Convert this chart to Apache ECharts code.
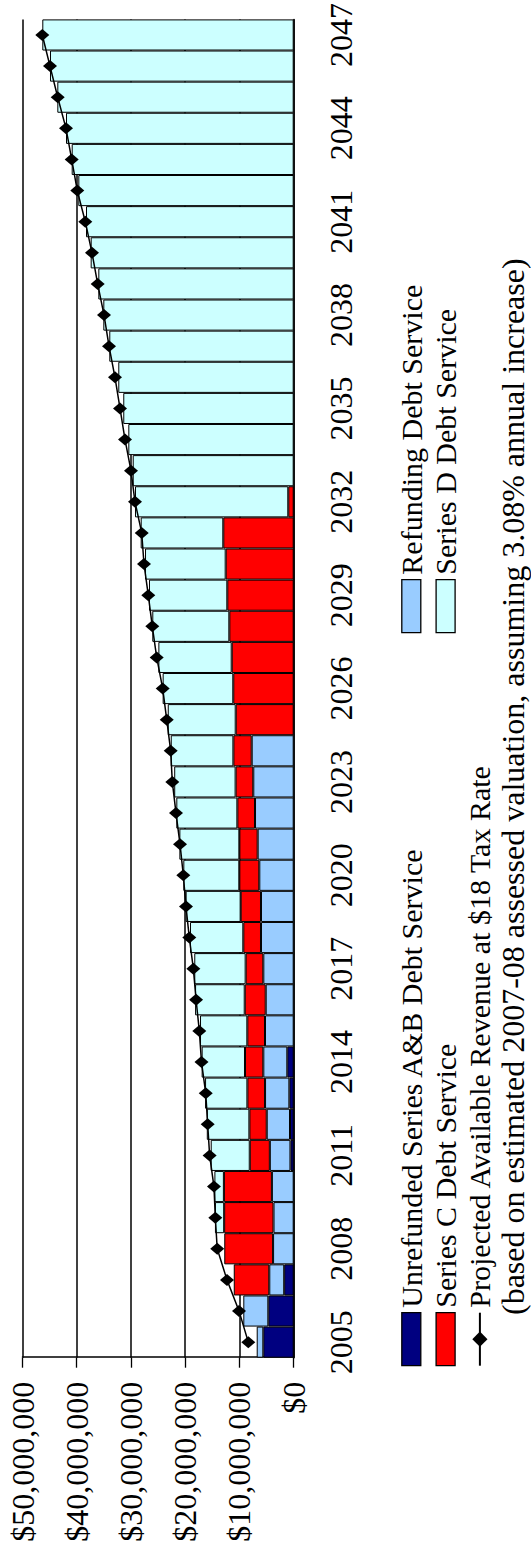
<!DOCTYPE html>
<html>
<head>
<meta charset="utf-8">
<script src="https://cdn.jsdelivr.net/npm/echarts@6/dist/echarts.min.js"></script>
<style>
  html, body { margin: 0; padding: 0; background: #fff; overflow: hidden; width: 531px; height: 1551px; }
  /* the chart is laid out landscape and turned a quarter-turn counter-clockwise */
  #chart { position: absolute; left: 0; top: 0; width: 1551px; height: 531px;
           transform-origin: 0 0; transform: translateY(1551px) rotate(-90deg); }
</style>
</head>
<body>
<div id="chart"></div>
<script>
// Fiscal years
const years = ['2005','2006','2007','2008','2009','2010','2011','2012','2013','2014',
  '2015','2016','2017','2018','2019','2020','2021','2022','2023','2024',
  '2025','2026','2027','2028','2029','2030','2031','2032','2033','2034',
  '2035','2036','2037','2038','2039','2040','2041','2042','2043','2044',
  '2045','2046','2047'];

// Debt service by component, millions of dollars (null = none that year)
const unrefundedAB = [5.60, 4.68, 1.75, null, null, null, 0.60, 0.68, 0.80, 1.18,
  null, null, null, null, null, null, null, null, null, null,
  null, null, null, null, null, null, null, null, null, null,
  null, null, null, null, null, null, null, null, null, null,
  null, null, null];

const refunding = [1.22, 4.61, 2.75, 3.80, 3.72, 4.02, 3.80, 4.29, 4.48, 4.42,
  5.29, 5.16, 5.60, 6.03, 6.03, 6.34, 6.64, 7.13, 7.45, 7.74,
  null, null, null, null, null, null, null, null, null, null,
  null, null, null, null, null, null, null, null, null, null,
  null, null, null];

const seriesC = [null, null, 6.55, 9.00, 9.10, 8.85, 3.70, 3.20, 3.26, 3.38,
  3.26, 3.87, 3.26, 3.26, 3.75, 3.69, 3.38, 3.26, 3.26, 3.38,
  10.69, 11.14, 11.43, 11.87, 12.24, 12.54, 12.98, 1.00, null, null,
  null, null, null, null, null, null, null, null, null, null,
  null, null, null];

const seriesD = [null, null, null, null, 1.70, 1.75, 7.20, 7.85, 7.80, 7.99,
  8.72, 9.15, 9.47, 9.83, 10.14, 10.32, 11.06, 11.25, 11.32, 11.55,
  12.53, 13.02, 13.52, 14.20, 14.44, 14.87, 15.23, 28.26, 29.68, 30.49,
  31.42, 32.34, 34.00, 35.10, 36.02, 37.43, 38.29, 39.71, 40.93, 41.98,
  43.58, 44.93, 46.35];

// Projected available revenue at the $18 tax rate, millions of dollars
const projectedRevenue = [8.37, 10.08, 12.30, 14.10, 14.45, 14.70, 15.50, 15.86, 16.22, 17.00,
  17.40, 18.00, 18.50, 19.25, 19.86, 20.35, 20.96, 21.70, 22.38, 22.68,
  23.41, 24.15, 25.26, 26.07, 26.81, 27.60, 28.02, 29.26, 30.00, 31.10,
  32.02, 32.95, 34.05, 34.97, 36.14, 37.19, 38.42, 39.90, 40.93, 41.98,
  43.51, 44.93, 46.35];

const names = {
  ab: 'Unrefunded Series A&B Debt Service',
  ref: 'Refunding Debt Service',
  c: 'Series C Debt Service',
  d: 'Series D Debt Service',
  rev: 'Projected Available Revenue at $18 Tax Rate'
};
const revenueNote = '(based on estimated 2007-08 assessed valuation, assuming 3.08% annual increase)';

const FONT = "'Liberation Serif', 'Times New Roman', serif";
const chart = echarts.init(document.getElementById('chart'), null, { renderer: 'svg' });

const barSeries = (name, data, color) => ({
  name, type: 'bar', stack: 'ds', data,
  barCategoryGap: '0%',
  itemStyle: { color, borderColor: '#000', borderWidth: 1 },
  emphasis: { disabled: true }
});

const boxItem = name => ({ name, icon: 'rect', itemStyle: { borderColor: '#000', borderWidth: 1.3 } });

chart.setOption({
  animation: false,
  backgroundColor: '#fff',
  textStyle: { fontFamily: FONT, color: '#000' },
  grid: { left: 193.3, right: 15.7, top: 22.5, bottom: 237.3, containLabel: false },
  xAxis: {
    type: 'category', data: years, boundaryGap: true,
    axisLine: { lineStyle: { color: '#000', width: 1.5 } },
    axisTick: { interval: 2, length: 10, lineStyle: { color: '#000', width: 1.3 } },
    axisLabel: { interval: 2, fontSize: 32, fontFamily: FONT, color: '#000', margin: 31 },
    splitLine: { show: false }
  },
  yAxis: {
    type: 'value', min: 0, max: 50, interval: 10,
    axisLine: { show: true, lineStyle: { color: '#000', width: 1.5 } },
    axisTick: { show: true, length: 10, lineStyle: { color: '#000', width: 1.3 } },
    axisLabel: {
      fontSize: 32, fontFamily: FONT, color: '#000', margin: 24,
      formatter: v => '$' + Math.round(v * 1e6).toLocaleString('en-US')
    },
    splitLine: { show: true, lineStyle: { color: '#000', width: 1.5 } }
  },
  legend: [
    {
      orient: 'vertical', left: 184.3, top: 396.3, padding: 0,
      itemWidth: 53, itemHeight: 19, itemGap: 4.3,
      textStyle: { fontSize: 30, fontFamily: FONT, color: '#000' },
      data: [boxItem(names.ab), boxItem(names.c), { name: names.rev }]
    },
    {
      orient: 'vertical', left: 917.7, top: 396.3, padding: 0,
      itemWidth: 53, itemHeight: 19, itemGap: 4.3,
      textStyle: { fontSize: 30, fontFamily: FONT, color: '#000' },
      data: [boxItem(names.ref), boxItem(names.d)]
    }
  ],
  graphic: [{
    type: 'text', left: 236, top: 497,
    style: { text: revenueNote, fontSize: 32, fontFamily: FONT, fill: '#000' }
  }],
  series: [
    barSeries(names.ab, unrefundedAB, '#000080'),
    barSeries(names.ref, refunding, '#99CCFF'),
    barSeries(names.c, seriesC, '#FF0000'),
    barSeries(names.d, seriesD, '#CCFFFF'),
    {
      name: names.rev, type: 'line', data: projectedRevenue, z: 5,
      symbol: 'diamond', symbolSize: [12, 14], showAllSymbol: true,
      itemStyle: { color: '#000' },
      lineStyle: { color: '#000', width: 1.5 },
      emphasis: { disabled: true }
    }
  ]
});
</script>
</body>
</html>
